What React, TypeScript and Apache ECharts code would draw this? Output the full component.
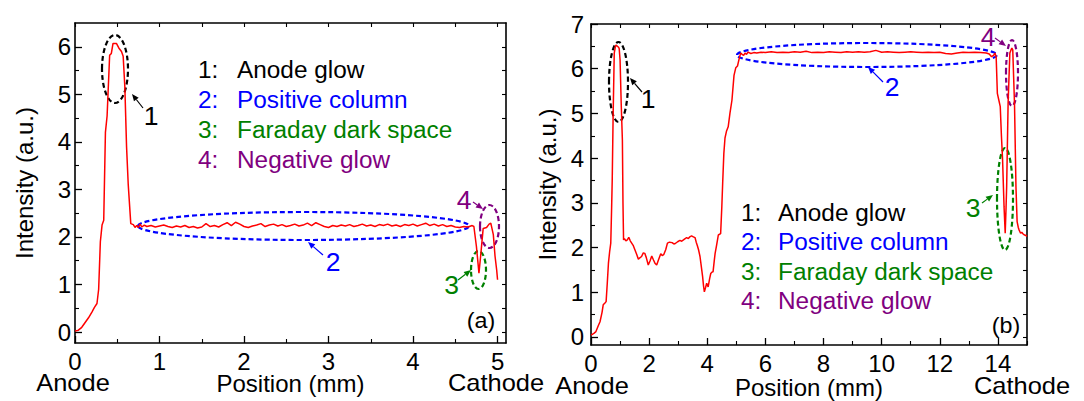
import React, { useEffect, useRef } from "react";
import * as echarts from "echarts";

// ---------- data ----------
const posA = [
  0, 0.04, 0.08, 0.12, 0.16, 0.2, 0.23, 0.26, 0.28, 0.3, 0.32, 0.34, 0.36, 0.38, 0.41, 0.43, 0.45, 0.49, 0.52, 0.55,
  0.57, 0.59, 0.61, 0.63, 0.66, 0.69, 0.71, 0.73, 0.75, 0.77, 0.79, 0.82,
  0.85, 0.9, 0.95, 1.0, 1.05, 1.1, 1.15, 1.2, 1.25, 1.3, 1.35, 1.4, 1.45, 1.5, 1.55, 1.6, 1.65, 1.7, 1.75, 1.8,
  1.85, 1.9, 1.95, 2.0, 2.05, 2.1, 2.15, 2.2, 2.25, 2.3, 2.35, 2.4, 2.45, 2.5, 2.55, 2.6, 2.65, 2.7, 2.75, 2.8,
  2.85, 2.9, 2.95, 3.0, 3.05, 3.1, 3.15, 3.2, 3.25, 3.3, 3.35, 3.4, 3.45, 3.5, 3.55, 3.6, 3.65, 3.7, 3.75, 3.8,
  3.85, 3.9, 3.95, 4.0, 4.05, 4.1, 4.15, 4.2, 4.25, 4.3, 4.35, 4.4, 4.45, 4.5, 4.55, 4.6, 4.65, 4.7,
  4.72, 4.75, 4.78, 4.8, 4.83, 4.87, 4.9, 4.92, 4.95, 4.97, 4.99, 5.0,
];
const intensityA = [
  0.02, 0.04, 0.1, 0.2, 0.3, 0.42, 0.52, 0.6, 0.9, 1.9, 2.25, 2.35, 4.2, 4.55, 5.82, 5.86, 6.07, 6.07, 5.97, 5.9,
  5.8, 5.15, 3.9, 3.1, 2.28, 2.26, 2.2, 2.24, 2.2, 2.27, 2.21, 2.25,
  2.22, 2.24, 2.21, 2.23, 2.25, 2.22, 2.2, 2.23, 2.21, 2.24, 2.2, 2.22, 2.19, 2.21, 2.28, 2.22, 2.24, 2.21, 2.26, 2.3,
  2.24, 2.31, 2.27, 2.22, 2.2, 2.23, 2.25, 2.28, 2.22, 2.25, 2.27, 2.23, 2.26, 2.22, 2.24, 2.27, 2.23, 2.25, 2.29, 2.24,
  2.3, 2.26, 2.22, 2.2, 2.24, 2.22, 2.25, 2.23, 2.26, 2.22, 2.24, 2.27, 2.23, 2.25, 2.22, 2.26, 2.24, 2.27, 2.23, 2.25,
  2.22, 2.26, 2.24, 2.27, 2.23, 2.26, 2.29, 2.24, 2.27, 2.23, 2.26, 2.22, 2.24, 2.21, 2.2, 2.22, 2.21, 2.24,
  2.22, 1.8, 1.24, 1.6, 2.18, 2.2, 2.27, 2.29, 2.05, 1.6, 1.3, 1.1,
];

const posB = [
  0, 0.1, 0.17, 0.25, 0.31, 0.38, 0.42, 0.48, 0.52, 0.56, 0.6, 0.64, 0.68, 0.71, 0.73, 0.76, 0.8, 0.84, 0.86, 0.91,
  0.95, 0.97, 1.0, 1.04, 1.08, 1.1, 1.12, 1.15, 1.2, 1.25, 1.3, 1.35, 1.4, 1.45, 1.51, 1.57, 1.63, 1.68, 1.74, 1.8,
  1.85, 1.9, 1.97, 2.03, 2.09, 2.15, 2.2, 2.26, 2.32, 2.4, 2.45, 2.5, 2.57, 2.63, 2.7, 2.79, 2.85, 2.9, 2.98, 3.06,
  3.12, 3.18, 3.24, 3.29, 3.35, 3.4, 3.46, 3.52, 3.58, 3.62, 3.66, 3.7, 3.75, 3.8, 3.84, 3.87, 3.9, 3.94, 3.98, 4.03,
  4.08, 4.12, 4.16, 4.2, 4.24, 4.27, 4.32, 4.38, 4.46, 4.5, 4.53, 4.57, 4.61, 4.66, 4.72, 4.78, 4.85, 4.92, 4.98, 5.04,
  5.1, 5.15, 5.2, 5.25, 5.3, 5.35, 5.4, 5.5, 5.6, 5.7, 5.85, 6.0, 6.2, 6.4, 6.6, 6.8, 7.0, 7.2, 7.4, 7.6,
  7.8, 8.0, 8.2, 8.4, 8.6, 8.8, 9.0, 9.2, 9.4, 9.6, 9.8, 10.0, 10.2, 10.4, 10.6, 10.8, 11.0, 11.2, 11.4, 11.6,
  11.8, 12.0, 12.2, 12.4, 12.6, 12.8, 13.0, 13.2, 13.4, 13.6, 13.7, 13.78, 13.85, 13.9, 13.94, 13.98, 14.03, 14.08, 14.12, 14.16,
  14.21, 14.25, 14.28, 14.3, 14.35, 14.41, 14.45, 14.48, 14.51, 14.57, 14.62, 14.66, 14.7, 14.73, 14.78, 14.82, 14.87, 14.92, 14.96, 15.0,
];
const intensityB = [
  0.04, 0.08, 0.12, 0.25, 0.34, 0.55, 0.72, 0.76, 0.79, 1.2, 1.65, 1.9, 2.1, 2.9, 3.5, 4.9, 6.35, 6.5, 6.53, 6.5,
  6.48, 6.45, 6.2, 5.2, 4.4, 3.0, 2.17, 2.2, 2.15, 2.17, 2.23, 2.15, 2.1, 2.05, 1.95, 1.85, 1.74, 1.77, 1.8, 1.88,
  1.87, 1.78, 1.61, 1.7, 1.81, 1.72, 1.65, 1.61, 1.72, 1.86, 1.82, 1.84, 1.95, 2.1, 2.12, 2.11, 2.08, 2.09, 2.13, 2.16,
  2.14, 2.17, 2.2, 2.22, 2.2, 2.24, 2.26, 2.24, 2.22, 2.12, 2.04, 1.95, 1.8, 1.55, 1.35, 1.15, 1.01, 1.1, 1.2, 1.12,
  1.3, 1.42, 1.45, 1.46, 1.7, 1.87, 2.05, 2.28, 2.31, 2.9, 3.44, 4.1, 4.45, 4.6, 4.7, 5.0, 5.3, 5.85, 6.02, 6.06,
  6.23, 6.35, 6.32, 6.3, 6.35, 6.32, 6.37, 6.34, 6.36, 6.35, 6.37, 6.36, 6.38, 6.36, 6.37, 6.36, 6.38, 6.37, 6.39, 6.36,
  6.37, 6.36, 6.38, 6.37, 6.36, 6.38, 6.37, 6.38, 6.37, 6.38, 6.41, 6.37, 6.38, 6.37, 6.36, 6.37, 6.38, 6.37, 6.36, 6.37,
  6.36, 6.37, 6.34, 6.33, 6.35, 6.37, 6.36, 6.37, 6.36, 6.35, 6.33, 6.27, 6.3, 6.35, 6.25, 5.45, 5.3, 5.15, 4.5, 3.96,
  2.92, 2.32, 2.9, 3.36, 5.23, 6.35, 6.42, 6.46, 6.42, 5.22, 3.36, 2.58, 2.45, 2.39, 2.32, 2.34, 2.3, 2.28, 2.27, 2.25,
];

const xTicksA = [0, 1, 2, 3, 4, 5];
const xMinorA = [0.5, 1.5, 2.5, 3.5, 4.5];
const yTicksA = [0, 1, 2, 3, 4, 5, 6];
const yMinorA = [0.5, 1.5, 2.5, 3.5, 4.5, 5.5];
const xTicksB = [0, 2, 4, 6, 8, 10, 12, 14];
const xMinorB = [1, 3, 5, 7, 9, 11, 13, 15];
const yTicksB = [0, 1, 2, 3, 4, 5, 6, 7];
const yMinorB = [0.5, 1.5, 2.5, 3.5, 4.5, 5.5, 6.5];

const legendNums = ["1:", "2:", "3:", "4:"];
const legendNames = ["Anode glow", "Positive column", "Faraday dark space", "Negative glow"];
const regionColors = ["#000000", "#0000ff", "#008000", "#800080"];

// ---------- layout / style ----------
const FONT = "'Liberation Sans', Arial, Helvetica, sans-serif";
const TICK_FS = 24;
const NAME_FS = 24;
const LEG_FS = 23;
const SX = 1.06;
const gridA = { left: 75, top: 23, width: 431, height: 320 };
const gridB = { left: 591, top: 24, width: 436, height: 321 };

// annotations in pixels: ellipse [cx, cy, rx, ry], arrow [x1, y1, x2(head), y2(head)], label [x, y]
const annotA = [
  { e: [115, 69, 13, 34], a: [143, 108, 132, 94], l: [151, 116] },
  { e: [303.5, 226, 165.5, 14], a: [323, 255, 308, 242], l: [333, 262] },
  { e: [478.5, 270, 7.5, 19], a: [458, 280, 471, 270], l: [451.5, 285] },
  { e: [489.5, 226.5, 9.5, 21.5], a: [473, 202, 483, 209], l: [464, 200] },
];
const annotB = [
  { e: [618.5, 82, 9.5, 40], a: [642, 92, 630, 78], l: [648, 99] },
  { e: [867, 55, 130, 12], a: [883, 82, 868, 67], l: [892, 87] },
  { e: [1005, 199, 8, 51], a: [982, 203, 993, 195], l: [973, 208] },
  { e: [1012, 73, 6, 33], a: [995, 38, 1006, 46], l: [988, 37] },
];

function arrow(a: number[], color: string) {
  const [x1, y1, x2, y2] = a;
  const ang = Math.atan2(y2 - y1, x2 - x1);
  const L = 7, W = 3;
  const bx = x2 - L * Math.cos(ang), by = y2 - L * Math.sin(ang);
  const px = -Math.sin(ang) * W, py = Math.cos(ang) * W;
  return [
    { type: "line", shape: { x1, y1, x2: bx, y2: by }, style: { stroke: color, lineWidth: 1.2 }, silent: true },
    {
      type: "polygon",
      shape: { points: [[x2, y2], [bx + px, by + py], [bx - px, by - py]] },
      style: { fill: color },
      silent: true,
    },
  ];
}

function annotations(list: any[]) {
  const out: any[] = [];
  list.forEach((it, i) => {
    const c = regionColors[i];
    out.push({
      type: "ellipse",
      shape: { cx: it.e[0], cy: it.e[1], rx: it.e[2], ry: it.e[3] },
      style: { fill: null, stroke: c, lineWidth: 2.2, lineDash: [5, 3] },
      silent: true,
    });
    out.push(...arrow(it.a, c));
    out.push({
      type: "text",
      x: it.l[0],
      y: it.l[1],
      scaleX: SX,
      style: { text: String(i + 1), fill: c, font: `25px ${FONT}`, textAlign: "center", textVerticalAlign: "middle" },
      silent: true,
    });
  });
  return out;
}

function legend(xNum: number, xName: number, y0: number, dy: number) {
  const out: any[] = [];
  legendNames.forEach((name, i) => {
    const y = y0 + i * dy;
    out.push({
      type: "text", x: xNum, y, scaleX: SX,
      style: { text: legendNums[i], fill: regionColors[i], font: `${LEG_FS}px ${FONT}`, textVerticalAlign: "middle" },
      silent: true,
    });
    out.push({
      type: "text", x: xName, y, scaleX: SX,
      style: { text: name, fill: regionColors[i], font: `${LEG_FS}px ${FONT}`, textVerticalAlign: "middle" },
      silent: true,
    });
  });
  return out;
}

function plainText(text: string, x: number, y: number, size: number, sx: number) {
  return {
    type: "text", x, y, scaleX: sx,
    style: { text, fill: "#000", font: `${size}px ${FONT}`, textAlign: "center", textVerticalAlign: "middle" },
    silent: true,
  };
}

const lineStyle = { color: "#000", width: 1.6 };

function mainX(grid: number, max: number, ticks: number[], gap: number) {
  return {
    type: "value", gridIndex: grid, position: "bottom", min: 0, max,
    axisLine: { show: true, onZero: false, lineStyle },
    axisTick: { show: true, inside: true, length: 7, customValues: ticks, lineStyle: { color: "#000", width: 1.3 } },
    axisLabel: {
      show: true, customValues: ticks, fontSize: TICK_FS, lineHeight: 20, fontFamily: FONT, color: "#000", margin: 8,
    },
    splitLine: { show: false },
    name: "Position (mm)", nameLocation: "middle", nameGap: gap, nameMoveOverlap: false,
    nameTextStyle: { fontSize: NAME_FS, lineHeight: 20, fontFamily: FONT, color: "#000" },
  };
}
function topX(grid: number, max: number, ticks: number[]) {
  return {
    type: "value", gridIndex: grid, position: "top", min: 0, max,
    axisLine: { show: true, onZero: false, lineStyle },
    axisTick: { show: true, inside: true, length: 4, customValues: ticks, lineStyle: { color: "#000", width: 1.1 } },
    axisLabel: { show: false, customValues: ticks },
    splitLine: { show: false },
  };
}
function minorX(grid: number, max: number, ticks: number[]) {
  return {
    type: "value", gridIndex: grid, position: "bottom", min: 0, max,
    axisLine: { show: false, onZero: false },
    axisTick: { show: true, inside: true, length: 4, customValues: ticks, lineStyle: { color: "#000", width: 1.1 } },
    axisLabel: { show: false, customValues: ticks },
    splitLine: { show: false },
  };
}
function mainY(grid: number, min: number, max: number, ticks: number[], margin: number, gap: number) {
  return {
    type: "value", gridIndex: grid, position: "left", min, max,
    axisLine: { show: true, onZero: false, lineStyle },
    axisTick: { show: true, inside: true, length: 7, customValues: ticks, lineStyle: { color: "#000", width: 1.3 } },
    axisLabel: { show: true, customValues: ticks, fontSize: TICK_FS, fontFamily: FONT, color: "#000", margin },
    splitLine: { show: false },
    name: "Intensity (a.u.)", nameLocation: "middle", nameGap: gap, nameRotate: 90, nameMoveOverlap: false,
    nameTextStyle: { fontSize: NAME_FS, fontFamily: FONT, color: "#000" },
  };
}
function rightY(grid: number, min: number, max: number, ticks: number[]) {
  return {
    type: "value", gridIndex: grid, position: "right", min, max,
    axisLine: { show: true, onZero: false, lineStyle },
    axisTick: { show: true, inside: true, length: 4, customValues: ticks, lineStyle: { color: "#000", width: 1.1 } },
    axisLabel: { show: false, customValues: ticks },
    splitLine: { show: false },
  };
}
function minorY(grid: number, min: number, max: number, ticks: number[]) {
  return {
    type: "value", gridIndex: grid, position: "left", min, max,
    axisLine: { show: false, onZero: false },
    axisTick: { show: true, inside: true, length: 4, customValues: ticks, lineStyle: { color: "#000", width: 1.1 } },
    axisLabel: { show: false, customValues: ticks },
    splitLine: { show: false },
  };
}

function buildOption() {
  const yMinA = -0.23, yMaxA = 6.5, xMaxA = 5.1;
  const yMinB = -0.18, yMaxB = 7, xMaxB = 15;
  const dataA = posA.map((x, i) => [x, intensityA[i]]);
  const dataB = posB.map((x, i) => [x, intensityB[i]]);
  const allA = [...xTicksA, ...xMinorA].sort((a, b) => a - b);
  const allB = [...xTicksB, ...xMinorB].sort((a, b) => a - b);
  const allYA = [...yTicksA, ...yMinorA].sort((a, b) => a - b);
  const allYB = [...yTicksB, ...yMinorB].sort((a, b) => a - b);
  const g = (r: any) => ({ ...r, containLabel: false, outerBoundsMode: "none" });
  return {
    animation: false,
    backgroundColor: "#fff",
    textStyle: { fontFamily: FONT },
    grid: [g(gridA), g(gridA), g(gridB), g(gridB)],
    xAxis: [
      mainX(0, xMaxA, xTicksA, 30),
      topX(0, xMaxA, allA),
      minorX(1, xMaxA, xMinorA),
      mainX(2, xMaxB, xTicksB, 32),
      topX(2, xMaxB, allB),
      minorX(3, xMaxB, xMinorB),
    ],
    yAxis: [
      mainY(0, yMinA, yMaxA, yTicksA, 4, 39),
      rightY(0, yMinA, yMaxA, allYA),
      minorY(1, yMinA, yMaxA, yMinorA),
      mainY(2, yMinB, yMaxB, yTicksB, 7, 32),
      rightY(2, yMinB, yMaxB, allYB),
      minorY(3, yMinB, yMaxB, yMinorB),
    ],
    series: [
      {
        type: "line", xAxisIndex: 0, yAxisIndex: 0, data: dataA, showSymbol: false, symbol: "none",
        lineStyle: { color: "#ff0000", width: 1.5 }, itemStyle: { color: "#ff0000" }, clip: true,
      },
      {
        type: "line", xAxisIndex: 3, yAxisIndex: 3, data: dataB, showSymbol: false, symbol: "none",
        lineStyle: { color: "#ff0000", width: 1.5 }, itemStyle: { color: "#ff0000" }, clip: true,
      },
    ],
    graphic: [
      ...annotations(annotA),
      ...annotations(annotB),
      ...legend(198, 237, 70, 30),
      ...legend(741, 778, 213, 29.5),
      plainText("(a)", 481, 320, 22, 1.06),
      plainText("(b)", 1006, 325, 22, 1.06),
      plainText("Anode", 73, 383, 24, 1.06),
      plainText("Cathode", 496, 383, 24, 1.06),
      plainText("Anode", 592, 386, 24, 1.06),
      plainText("Cathode", 1022, 386, 24, 1.06),
    ],
  };
}

export default function App() {
  const ref = useRef<HTMLDivElement>(null);
  useEffect(() => {
    const chart = echarts.init(ref.current as HTMLDivElement, null, { renderer: "svg" });
    chart.setOption(buildOption() as any);
    return () => chart.dispose();
  }, []);
  return (
    <div
      ref={ref}
      style={{ position: "fixed", left: 0, top: 0, width: 1084, height: 401, background: "#fff" }}
    />
  );
}
